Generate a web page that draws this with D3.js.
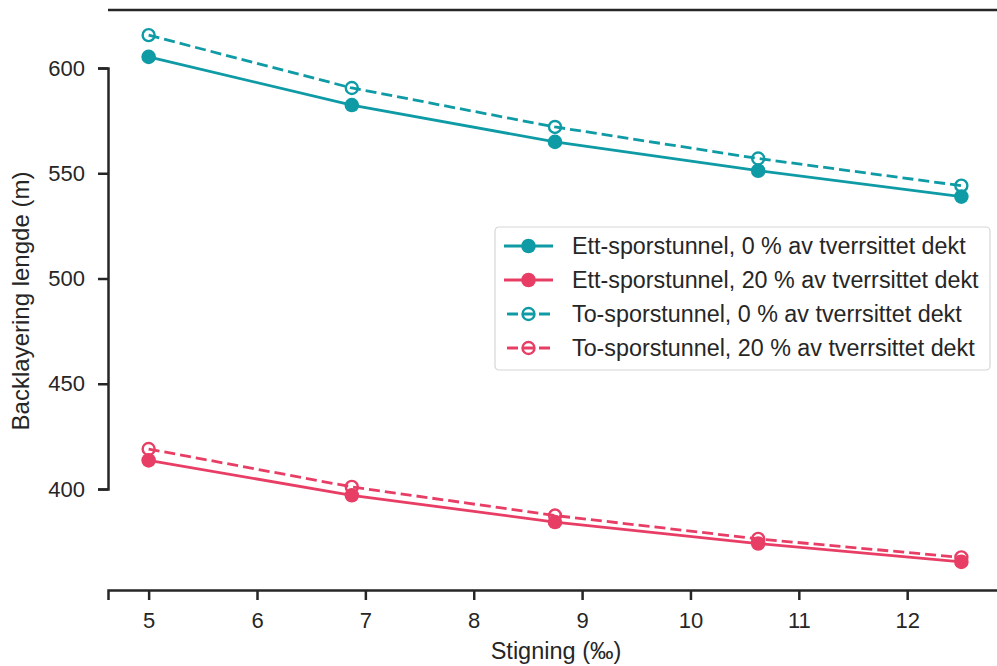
<!DOCTYPE html>
<html>
<head>
<meta charset="utf-8">
<script src="https://cdn.jsdelivr.net/npm/d3@7"></script>
<style>
  body { margin: 0; background: #fff; }
  text { font-family: "Liberation Sans", Arial, sans-serif; fill: #262626; }
</style>
</head>
<body>
<div id="chart"></div>
<script>
(function () {

  // data
  var stigning = [5, 6.875, 8.75, 10.625, 12.5]
  var ettSpor0 = [605.3, 582.4, 564.9, 551.2, 538.9]
  var ettSpor20 = [413.6, 397.0, 384.3, 374.1, 365.4]
  var toSpor0 = [615.6, 590.5, 572.0, 557.0, 544.1]
  var toSpor20 = [419.0, 401.0, 387.4, 376.3, 367.5]
  var xTicks = [5, 6, 7, 8, 9, 10, 11, 12]
  var yTicks = [400, 450, 500, 550, 600]

  var teal = "#0e9ba5"
  var red = "#e83e65"

  var series = [
    { name: "Ett-sporstunnel, 0 % av tverrsittet dekt", values: ettSpor0, color: teal, dashed: false },
    { name: "Ett-sporstunnel, 20 % av tverrsittet dekt", values: ettSpor20, color: red, dashed: false },
    { name: "To-sporstunnel, 0 % av tverrsittet dekt", values: toSpor0, color: teal, dashed: true },
    { name: "To-sporstunnel, 20 % av tverrsittet dekt", values: toSpor20, color: red, dashed: true }
  ]

  var margin = { top: 10, right: -5, bottom: 76, left: 108 }
  var width = 997 - margin.left - margin.right,
    height = 666 - margin.top - margin.bottom

  var svg = d3.select("#chart").append("svg")
    .attr("width", 997)
    .attr("height", 666)
    .append("g")
    .attr("transform", "translate(" + margin.left + "," + margin.top + ")")

  var x = d3.scaleLinear().domain([4.625, 12.875]).range([0, width])
  var y = d3.scaleLinear().domain([400, 600]).range([479, 58])

  // axes
  var xAxis = svg.append("g")
    .attr("transform", "translate(0," + height + ")")
    .call(d3.axisBottom(x).tickValues(xTicks).tickSize(10).tickPadding(12).tickFormat(d3.format("d")))
  var yAxis = svg.append("g")
    .call(d3.axisLeft(y).tickValues(yTicks).tickSize(10).tickPadding(13).tickFormat(d3.format("d")))

  ;[xAxis, yAxis].forEach(function (a) {
    a.attr("font-size", null).attr("font-family", null)
    a.select(".domain").attr("stroke", "#262626").attr("stroke-width", 2.5)
    a.selectAll(".tick line").attr("stroke", "#262626").attr("stroke-width", 2.5)
    a.selectAll(".tick text").style("font-size", "22px").style("fill", "#262626")
  })

  // top spine
  svg.append("line")
    .attr("x1", 0).attr("x2", width)
    .attr("y1", 0).attr("y2", 0)
    .attr("stroke", "#262626").attr("stroke-width", 2.5)

  // lines
  var line = d3.line()
    .x(function (d, i) { return x(stigning[i]) })
    .y(function (d) { return y(d) })

  series.forEach(function (s) {
    svg.append("path")
      .attr("d", line(s.values))
      .attr("fill", "none")
      .attr("stroke", s.color)
      .attr("stroke-width", 2.8)
      .attr("stroke-dasharray", s.dashed ? "11,5" : null)

    svg.selectAll(null)
      .data(s.values)
      .enter()
      .append("circle")
      .attr("cx", function (d, i) { return x(stigning[i]) })
      .attr("cy", function (d) { return y(d) })
      .attr("r", s.dashed ? 6 : 7.3)
      .attr("fill", s.dashed ? "none" : s.color)
      .attr("stroke", s.color)
      .attr("stroke-width", s.dashed ? 2.4 : 0)
  })

  // axis labels
  svg.append("text")
    .attr("x", 556 - margin.left)
    .attr("y", height + 69)
    .attr("text-anchor", "middle")
    .style("font-size", "23.5px")
    .text("Stigning (‰)")

  svg.append("text")
    .attr("transform", "translate(-79," + (301 - margin.top) + ") rotate(-90)")
    .attr("text-anchor", "middle")
    .style("font-size", "24px")
    .text("Backlayering lengde (m)")

  // legend
  var legend = svg.append("g").attr("transform", "translate(387,217)")
  legend.append("rect")
    .attr("width", 495).attr("height", 143)
    .attr("rx", 4)
    .attr("fill", "#fff")
    .attr("fill-opacity", 0.85)
    .attr("stroke", "#d6d6d6")
    .attr("stroke-width", 1.2)

  series.forEach(function (s, i) {
    var g = legend.append("g").attr("transform", "translate(0," + (19 + i * 34) + ")")
    g.append("line")
      .attr("x1", 9).attr("x2", 58)
      .attr("stroke", s.color)
      .attr("stroke-width", 2.8)
      .attr("stroke-dasharray", s.dashed ? "11,5" : null)
      .attr("stroke-dashoffset", s.dashed ? -3 : null)
    g.append("circle")
      .attr("cx", 33.5)
      .attr("r", s.dashed ? 6 : 7.3)
      .attr("fill", s.dashed ? "none" : s.color)
      .attr("stroke", s.color)
      .attr("stroke-width", s.dashed ? 2.4 : 0)
    g.append("text")
      .attr("x", 77)
      .attr("dy", "0.35em")
      .style("font-size", "23.3px")
      .text(s.name)
  })

})()
</script>
</body>
</html>
